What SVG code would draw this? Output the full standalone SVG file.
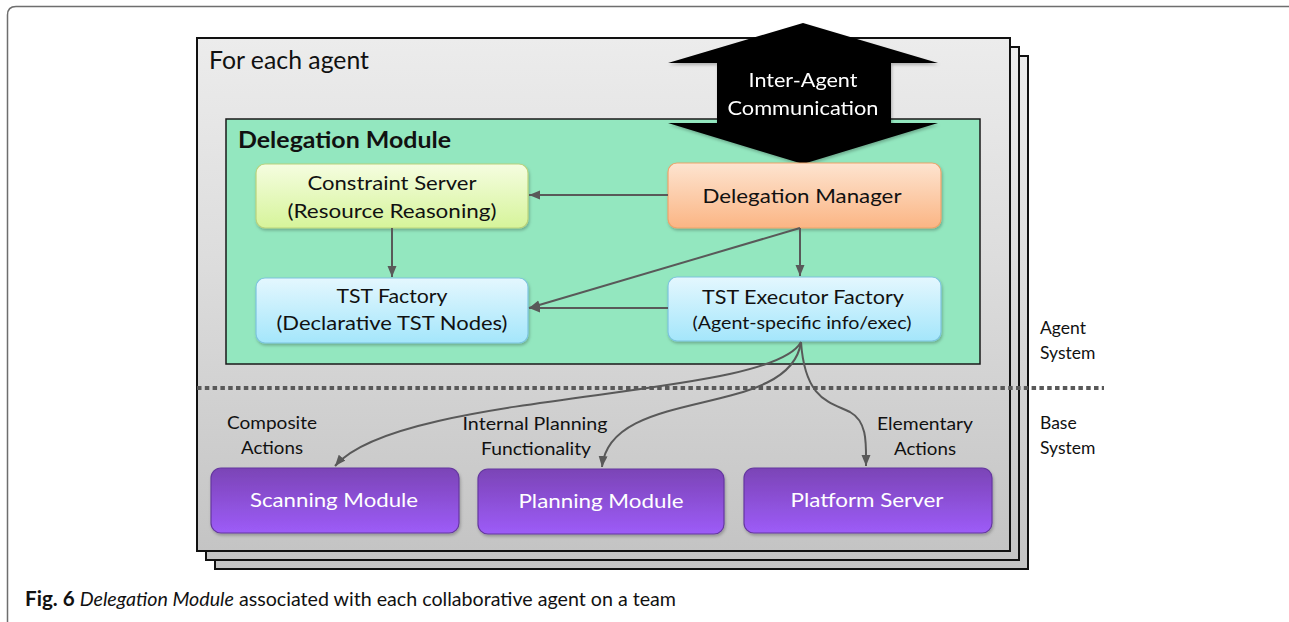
<svg xmlns="http://www.w3.org/2000/svg" width="1289" height="622" viewBox="0 0 1289 622">
  <style>
    .t { font-family: Lato, "Open Sans", "Liberation Sans", sans-serif; fill: #111; }
    .node-text { font-size: 20px; text-anchor: middle; }
    .small { font-size: 17px; }
    .white { fill: #ffffff; }
    .label { font-size: 17.5px; text-anchor: middle; }
    .side { font-size: 17.5px; }
    .conn { fill: none; stroke: #595959; stroke-width: 2; marker-end: url(#arrow); }
    .panel { fill: url(#panelGrad); stroke: #111; stroke-width: 2; }
    .cap { font-family: Lato, "Open Sans", "Liberation Sans", sans-serif; font-size: 20px; fill: #111; }
  </style>
  <defs>
    <linearGradient id="panelGrad" x1="0" y1="0" x2="0" y2="1">
      <stop offset="0" stop-color="#ececec"/>
      <stop offset="0.45" stop-color="#dcdcdc"/>
      <stop offset="1" stop-color="#c4c4c4"/>
    </linearGradient>
    <linearGradient id="yellowGrad" x1="0" y1="0" x2="0" y2="1">
      <stop offset="0" stop-color="#f5fde0"/>
      <stop offset="1" stop-color="#d6f49a"/>
    </linearGradient>
    <linearGradient id="blueGrad" x1="0" y1="0" x2="0" y2="1">
      <stop offset="0" stop-color="#e4f7fe"/>
      <stop offset="1" stop-color="#a4e6fb"/>
    </linearGradient>
    <linearGradient id="orangeGrad" x1="0" y1="0" x2="0" y2="1">
      <stop offset="0" stop-color="#fde4d0"/>
      <stop offset="1" stop-color="#fbb584"/>
    </linearGradient>
    <linearGradient id="purpleGrad" x1="0" y1="0" x2="0" y2="1">
      <stop offset="0" stop-color="#7b44b6"/>
      <stop offset="1" stop-color="#9d5cf8"/>
    </linearGradient>
    <filter id="shadow" x="-10%" y="-10%" width="130%" height="140%">
      <feDropShadow dx="1" dy="2" stdDeviation="1.5" flood-color="#000" flood-opacity="0.25"/>
    </filter>
    <marker id="arrow" markerUnits="userSpaceOnUse" markerWidth="12" markerHeight="10" refX="11" refY="4.5" orient="auto">
      <path d="M0,0 L11,4.5 L0,9 z" fill="#595959"/>
    </marker>
  </defs>

  <!-- figure frame -->
  <path d="M1290,6.5 H16 Q7.5,6.5 7.5,15 V622" fill="none" stroke="#6e6e6e" stroke-width="1.5"/>

  <!-- stacked agent panels -->
  <g id="agent-panels">
    <rect class="panel" x="215" y="56" width="813" height="513"/>
    <rect class="panel" x="206" y="47" width="813" height="513"/>
    <rect class="panel" x="197" y="38" width="813" height="513"/>
    <text class="t" x="209" y="69" font-size="25" textLength="160" lengthAdjust="spacingAndGlyphs">For each agent</text>
  </g>

  <!-- delegation module container -->
  <g id="delegation-module">
    <rect x="226" y="119" width="754" height="245" fill="#93e7bf" stroke="#1a1a1a" stroke-width="1.5"/>
    <text class="t" x="238" y="148" font-size="22" font-weight="bold" textLength="213" lengthAdjust="spacingAndGlyphs">Delegation Module</text>
  </g>

  <!-- inter-agent communication double arrow -->
  <g id="inter-agent-communication" filter="url(#shadow)">
    <path d="M803,23 L938,63 L891,63 L891,123 L938,123 L803,164 L668,123 L717,123 L717,63 L668,63 Z" fill="#000"/>
    <text class="t white" x="803" y="87" font-size="20" text-anchor="middle" textLength="109" lengthAdjust="spacingAndGlyphs">Inter-Agent</text>
    <text class="t white" x="803" y="115" font-size="20" text-anchor="middle" textLength="151" lengthAdjust="spacingAndGlyphs">Communication</text>
  </g>

  <g id="constraint-server">
    <rect x="256" y="164" width="272" height="64" rx="9" fill="url(#yellowGrad)" stroke="#b9d27c" stroke-width="1.2" filter="url(#shadow)"/>
    <text class="t node-text" x="392" y="190" textLength="169" lengthAdjust="spacingAndGlyphs">Constraint Server</text>
    <text class="t node-text" x="392" y="218" textLength="209" lengthAdjust="spacingAndGlyphs">(Resource Reasoning)</text>
  </g>

  <g id="delegation-manager">
    <rect x="668" y="163" width="273" height="65" rx="9" fill="url(#orangeGrad)" stroke="#eea36a" stroke-width="1.2" filter="url(#shadow)"/>
    <text class="t node-text" x="802" y="203" textLength="199" lengthAdjust="spacingAndGlyphs">Delegation Manager</text>
  </g>

  <g id="tst-factory">
    <rect x="256" y="278" width="272" height="65" rx="9" fill="url(#blueGrad)" stroke="#7cc4de" stroke-width="1.2" filter="url(#shadow)"/>
    <text class="t node-text" x="392" y="303" textLength="111" lengthAdjust="spacingAndGlyphs">TST Factory</text>
    <text class="t node-text" x="392" y="330" textLength="231" lengthAdjust="spacingAndGlyphs">(Declarative TST Nodes)</text>
  </g>

  <g id="tst-executor-factory">
    <rect x="668" y="277" width="273" height="64" rx="9" fill="url(#blueGrad)" stroke="#7cc4de" stroke-width="1.2" filter="url(#shadow)"/>
    <text class="t node-text" x="803" y="304" textLength="202" lengthAdjust="spacingAndGlyphs">TST Executor Factory</text>
    <text class="t node-text small" x="802" y="329" textLength="219" lengthAdjust="spacingAndGlyphs">(Agent-specific info/exec)</text>
  </g>

  <!-- agent / base system boundary -->
  <g id="system-boundary">
    <line x1="197" y1="388" x2="1104" y2="388" stroke="#595959" stroke-width="4" stroke-dasharray="4.5 3.3"/>
    <text class="t side" x="1040" y="334">Agent</text>
    <text class="t side" x="1040" y="359">System</text>
    <text class="t side" x="1040" y="429">Base</text>
    <text class="t side" x="1040" y="454">System</text>
  </g>

  <g id="scanning-module">
    <rect x="211" y="468" width="248" height="65" rx="10" fill="url(#purpleGrad)" stroke="#6537a0" stroke-width="1.2" filter="url(#shadow)"/>
    <text class="t node-text white" x="334" y="507" textLength="168" lengthAdjust="spacingAndGlyphs">Scanning Module</text>
  </g>

  <g id="planning-module">
    <rect x="478" y="469" width="246" height="65" rx="10" fill="url(#purpleGrad)" stroke="#6537a0" stroke-width="1.2" filter="url(#shadow)"/>
    <text class="t node-text white" x="601" y="508" textLength="165" lengthAdjust="spacingAndGlyphs">Planning Module</text>
  </g>

  <g id="platform-server">
    <rect x="744" y="468" width="248" height="65" rx="10" fill="url(#purpleGrad)" stroke="#6537a0" stroke-width="1.2" filter="url(#shadow)"/>
    <text class="t node-text white" x="867" y="507" textLength="153" lengthAdjust="spacingAndGlyphs">Platform Server</text>
  </g>

  <!-- connector labels -->
  <g id="connector-labels">
    <text class="t label" x="272" y="429" textLength="90" lengthAdjust="spacingAndGlyphs">Composite</text>
    <text class="t label" x="272" y="454" textLength="62" lengthAdjust="spacingAndGlyphs">Actions</text>
    <text class="t label" x="535" y="430" textLength="145" lengthAdjust="spacingAndGlyphs">Internal Planning</text>
    <text class="t label" x="536" y="455" textLength="110" lengthAdjust="spacingAndGlyphs">Functionality</text>
    <text class="t label" x="925" y="430" textLength="96" lengthAdjust="spacingAndGlyphs">Elementary</text>
    <text class="t label" x="925" y="455" textLength="62" lengthAdjust="spacingAndGlyphs">Actions</text>
  </g>

  <!-- connectors -->
  <g id="connectors">
    <path class="conn" d="M668,195 H529"/>
    <path class="conn" d="M392,228 V277"/>
    <path class="conn" d="M800,228 L529,308"/>
    <path class="conn" d="M800,228 V276"/>
    <path class="conn" d="M668,308 H529"/>
    <path class="conn" d="M801,342 C770,400 400,390 335,466"/>
    <path class="conn" d="M801,342 C790,420 610,385 602,467"/>
    <path class="conn" d="M801,342 C805,400 830,402 850,412 C868,422 866,445 866,466"/>
  </g>

  <!-- caption -->
  <g id="caption">
    <text class="cap" x="25" y="606" textLength="651" lengthAdjust="spacingAndGlyphs"><tspan font-weight="bold" font-size="21">Fig. 6</tspan> <tspan font-style="italic">Delegation Module</tspan> associated with each collaborative agent on a team</text>
  </g>
</svg>
